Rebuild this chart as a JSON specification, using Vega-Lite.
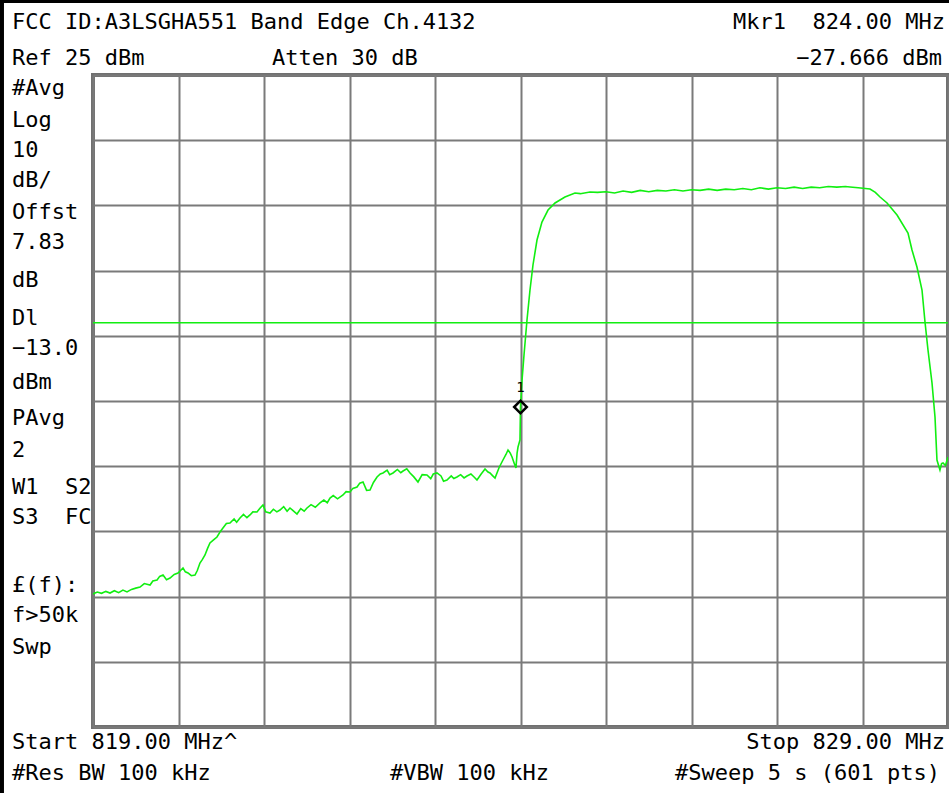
{
  "$schema": "https://vega.github.io/schema/vega-lite/v6.json",
  "width": 855,
  "height": 652,
  "autosize": {"type": "none"},
  "padding": {"left": 93, "top": 75, "right": 1, "bottom": 66},
  "background": "white",
  "config": {
    "view": {"stroke": "#707070", "strokeWidth": 4},
    "axis": {"grid": true, "gridColor": "#7a7a7a", "gridWidth": 2, "gridOpacity": 1, "labels": false, "ticks": false, "domain": false, "title": null}
  },
  "datasets": {
    "trace": [
      {"f": 819.000, "dBm": -54.6}, {"f": 819.05, "dBm": -54.3}, {"f": 819.10, "dBm": -54.5}, {"f": 819.15, "dBm": -54.2},
      {"f": 819.199, "dBm": -54.45}, {"f": 819.25, "dBm": -54.1}, {"f": 819.30, "dBm": -54.4}, {"f": 819.35, "dBm": -54.0},
      {"f": 819.398, "dBm": -54.29}, {"f": 819.45, "dBm": -53.9}, {"f": 819.50, "dBm": -53.7}, {"f": 819.550, "dBm": -53.53},
      {"f": 819.60, "dBm": -53.0}, {"f": 819.667, "dBm": -53.22}, {"f": 819.70, "dBm": -52.6}, {"f": 819.749, "dBm": -52.45},
      {"f": 819.78, "dBm": -51.9}, {"f": 819.819, "dBm": -51.69}, {"f": 819.86, "dBm": -52.4}, {"f": 819.901, "dBm": -52.15},
      {"f": 819.95, "dBm": -51.6}, {"f": 819.994, "dBm": -51.38}, {"f": 820.053, "dBm": -50.61}, {"f": 820.08, "dBm": -51.2},
      {"f": 820.111, "dBm": -51.38}, {"f": 820.15, "dBm": -51.8}, {"f": 820.193, "dBm": -51.69}, {"f": 820.22, "dBm": -51.0},
      {"f": 820.251, "dBm": -49.85}, {"f": 820.28, "dBm": -49.3}, {"f": 820.310, "dBm": -48.62}, {"f": 820.34, "dBm": -47.6},
      {"f": 820.368, "dBm": -46.78}, {"f": 820.41, "dBm": -46.3}, {"f": 820.450, "dBm": -45.86}, {"f": 820.49, "dBm": -45.0},
      {"f": 820.520, "dBm": -44.48}, {"f": 820.56, "dBm": -43.8}, {"f": 820.602, "dBm": -43.71}, {"f": 820.65, "dBm": -43.1},
      {"f": 820.68, "dBm": -43.6}, {"f": 820.719, "dBm": -42.94}, {"f": 820.76, "dBm": -42.4}, {"f": 820.80, "dBm": -42.9},
      {"f": 820.836, "dBm": -42.48}, {"f": 820.87, "dBm": -42.0}, {"f": 820.918, "dBm": -42.02}, {"f": 820.95, "dBm": -41.5},
      {"f": 820.988, "dBm": -40.95}, {"f": 821.02, "dBm": -42.0}, {"f": 821.070, "dBm": -42.18}, {"f": 821.11, "dBm": -41.6},
      {"f": 821.15, "dBm": -42.0}, {"f": 821.187, "dBm": -41.72}, {"f": 821.23, "dBm": -41.2}, {"f": 821.27, "dBm": -41.9},
      {"f": 821.304, "dBm": -41.41}, {"f": 821.34, "dBm": -41.8}, {"f": 821.386, "dBm": -42.33}, {"f": 821.43, "dBm": -41.5},
      {"f": 821.47, "dBm": -41.9}, {"f": 821.503, "dBm": -41.41}, {"f": 821.55, "dBm": -40.9}, {"f": 821.60, "dBm": -41.3},
      {"f": 821.655, "dBm": -40.64}, {"f": 821.70, "dBm": -40.2}, {"f": 821.74, "dBm": -40.6}, {"f": 821.772, "dBm": -39.88},
      {"f": 821.81, "dBm": -39.5}, {"f": 821.86, "dBm": -40.0}, {"f": 821.924, "dBm": -39.42}, {"f": 821.96, "dBm": -38.9},
      {"f": 822.006, "dBm": -38.96}, {"f": 822.04, "dBm": -38.4}, {"f": 822.088, "dBm": -38.19}, {"f": 822.12, "dBm": -37.6},
      {"f": 822.158, "dBm": -37.42}, {"f": 822.20, "dBm": -38.7}, {"f": 822.240, "dBm": -38.65}, {"f": 822.28, "dBm": -37.5},
      {"f": 822.322, "dBm": -36.66}, {"f": 822.36, "dBm": -36.2}, {"f": 822.392, "dBm": -36.04}, {"f": 822.44, "dBm": -35.6},
      {"f": 822.47, "dBm": -36.3}, {"f": 822.509, "dBm": -36.04}, {"f": 822.56, "dBm": -35.5}, {"f": 822.60, "dBm": -36.0},
      {"f": 822.626, "dBm": -35.74}, {"f": 822.67, "dBm": -35.4}, {"f": 822.708, "dBm": -36.04}, {"f": 822.75, "dBm": -36.6},
      {"f": 822.801, "dBm": -37.42}, {"f": 822.85, "dBm": -36.3}, {"f": 822.906, "dBm": -36.35}, {"f": 822.95, "dBm": -36.9},
      {"f": 822.98, "dBm": -36.2}, {"f": 823.023, "dBm": -36.04}, {"f": 823.07, "dBm": -36.5}, {"f": 823.10, "dBm": -37.3},
      {"f": 823.140, "dBm": -37.12}, {"f": 823.19, "dBm": -36.5}, {"f": 823.22, "dBm": -36.9}, {"f": 823.257, "dBm": -36.66},
      {"f": 823.30, "dBm": -36.3}, {"f": 823.34, "dBm": -36.8}, {"f": 823.374, "dBm": -36.50}, {"f": 823.42, "dBm": -36.2},
      {"f": 823.46, "dBm": -36.7}, {"f": 823.491, "dBm": -37.12}, {"f": 823.54, "dBm": -36.2}, {"f": 823.585, "dBm": -35.43},
      {"f": 823.62, "dBm": -35.9}, {"f": 823.643, "dBm": -36.04}, {"f": 823.67, "dBm": -36.4}, {"f": 823.702, "dBm": -36.81},
      {"f": 823.75, "dBm": -35.2}, {"f": 823.795, "dBm": -34.05}, {"f": 823.83, "dBm": -33.2}, {"f": 823.854, "dBm": -32.52},
      {"f": 823.88, "dBm": -33.0}, {"f": 823.901, "dBm": -33.59}, {"f": 823.925, "dBm": -34.5}, {"f": 823.947, "dBm": -35.28},
      {"f": 823.960, "dBm": -33.0}, {"f": 823.971, "dBm": -32.06}, {"f": 823.994, "dBm": -30.98}, {"f": 824.000, "dBm": -25.92},
      {"f": 824.018, "dBm": -21.78}, {"f": 824.041, "dBm": -17.94}, {"f": 824.076, "dBm": -12.58}, {"f": 824.111, "dBm": -7.98},
      {"f": 824.146, "dBm": -4.14}, {"f": 824.193, "dBm": -0.31}, {"f": 824.251, "dBm": 2.45}, {"f": 824.322, "dBm": 4.29},
      {"f": 824.404, "dBm": 5.37}, {"f": 824.520, "dBm": 6.29}, {"f": 824.637, "dBm": 6.90}, {"f": 824.70, "dBm": 6.8},
      {"f": 824.813, "dBm": 7.06}, {"f": 824.90, "dBm": 7.0}, {"f": 825.00, "dBm": 7.1}, {"f": 825.10, "dBm": 6.9},
      {"f": 825.20, "dBm": 7.2}, {"f": 825.30, "dBm": 7.0}, {"f": 825.40, "dBm": 7.3}, {"f": 825.50, "dBm": 7.1},
      {"f": 825.60, "dBm": 7.3}, {"f": 825.70, "dBm": 7.2}, {"f": 825.80, "dBm": 7.4}, {"f": 825.90, "dBm": 7.2},
      {"f": 826.00, "dBm": 7.4}, {"f": 826.10, "dBm": 7.3}, {"f": 826.20, "dBm": 7.5}, {"f": 826.30, "dBm": 7.3},
      {"f": 826.40, "dBm": 7.5}, {"f": 826.50, "dBm": 7.4}, {"f": 826.60, "dBm": 7.6}, {"f": 826.70, "dBm": 7.4},
      {"f": 826.80, "dBm": 7.7}, {"f": 826.90, "dBm": 7.5}, {"f": 827.00, "dBm": 7.7}, {"f": 827.10, "dBm": 7.6},
      {"f": 827.20, "dBm": 7.8}, {"f": 827.30, "dBm": 7.6}, {"f": 827.40, "dBm": 7.8}, {"f": 827.50, "dBm": 7.7},
      {"f": 827.60, "dBm": 7.9}, {"f": 827.70, "dBm": 7.8}, {"f": 827.80, "dBm": 7.9}, {"f": 827.854, "dBm": 7.82},
      {"f": 827.95, "dBm": 7.7}, {"f": 828.088, "dBm": 7.52}, {"f": 828.15, "dBm": 7.0}, {"f": 828.205, "dBm": 6.29},
      {"f": 828.287, "dBm": 5.37}, {"f": 828.404, "dBm": 3.53}, {"f": 828.532, "dBm": 0.77}, {"f": 828.579, "dBm": -1.84},
      {"f": 828.637, "dBm": -4.45}, {"f": 828.696, "dBm": -7.98}, {"f": 828.731, "dBm": -12.88}, {"f": 828.766, "dBm": -17.18},
      {"f": 828.813, "dBm": -22.24}, {"f": 828.848, "dBm": -27.45}, {"f": 828.871, "dBm": -34.05}, {"f": 828.906, "dBm": -35.58},
      {"f": 828.925, "dBm": -34.6}, {"f": 828.942, "dBm": -34.51}, {"f": 828.97, "dBm": -34.9}, {"f": 829.000, "dBm": -33.59}
    ],
    "leftNotes": [
      {"label": "FCC ID:A3LSGHA551 Band Edge Ch.4132", "f": 818.053, "dBm": 33.13},
      {"label": "Ref 25 dBm", "f": 818.053, "dBm": 27.61},
      {"label": "Atten 30 dB", "f": 821.094, "dBm": 27.61},
      {"label": "#Avg", "f": 818.053, "dBm": 23.01},
      {"label": "Log", "f": 818.053, "dBm": 18.10},
      {"label": "10", "f": 818.053, "dBm": 13.50},
      {"label": "dB/", "f": 818.053, "dBm": 8.90},
      {"label": "Offst", "f": 818.053, "dBm": 3.99},
      {"label": "7.83", "f": 818.053, "dBm": -0.61},
      {"label": "dB", "f": 818.053, "dBm": -6.44},
      {"label": "Dl", "f": 818.053, "dBm": -12.27},
      {"label": "−13.0", "f": 818.053, "dBm": -16.87},
      {"label": "dBm", "f": 818.053, "dBm": -22.09},
      {"label": "PAvg", "f": 818.053, "dBm": -27.61},
      {"label": "2", "f": 818.053, "dBm": -32.52},
      {"label": "W1\u00a0\u00a0S2", "f": 818.053, "dBm": -38.19},
      {"label": "S3\u00a0\u00a0FC", "f": 818.053, "dBm": -42.79},
      {"label": "£(f):", "f": 818.053, "dBm": -53.22},
      {"label": "f>50k", "f": 818.053, "dBm": -57.82},
      {"label": "Swp", "f": 818.053, "dBm": -62.73},
      {"label": "Start 819.00 MHz^", "f": 818.053, "dBm": -77.30},
      {"label": "#Res BW 100 kHz", "f": 818.053, "dBm": -82.06},
      {"label": "#VBW 100 kHz", "f": 822.474, "dBm": -82.06}
    ],
    "rightNotes": [
      {"label": "Mkr1\u00a0\u00a0824.00 MHz", "f": 828.965, "dBm": 33.13},
      {"label": "−27.666 dBm", "f": 828.93, "dBm": 27.61},
      {"label": "Stop 829.00 MHz", "f": 828.965, "dBm": -77.30},
      {"label": "#Sweep 5 s (601 pts)", "f": 828.906, "dBm": -82.06}
    ],
    "marker": [
      {"f": 824.0, "dBm": -25.92, "name": "1", "labelDBm": -23.0}
    ],
    "displayLine": [
      {"dBm": -13.0}
    ]
  },
  "layer": [
    {
      "data": {"name": "trace"},
      "mark": {"type": "line", "color": "#11ee11", "strokeWidth": 1.6, "clip": true},
      "encoding": {
        "x": {"field": "f", "type": "quantitative", "scale": {"domain": [819, 829], "nice": false, "zero": false}, "axis": {"values": [819, 820, 821, 822, 823, 824, 825, 826, 827, 828, 829]}},
        "y": {"field": "dBm", "type": "quantitative", "scale": {"domain": [-75, 25], "nice": false, "zero": false}, "axis": {"values": [-75, -65, -55, -45, -35, -25, -15, -5, 5, 15, 25]}}
      }
    },
    {
      "data": {"name": "displayLine"},
      "mark": {"type": "rule", "color": "#11ee11", "strokeWidth": 1.6},
      "encoding": {
        "y": {"field": "dBm", "type": "quantitative", "scale": {"domain": [-75, 25], "nice": false, "zero": false}}
      }
    },
    {
      "data": {"name": "marker"},
      "mark": {"type": "point", "shape": "diamond", "filled": false, "stroke": "black", "strokeWidth": 2.5, "size": 160, "opacity": 1},
      "encoding": {
        "x": {"field": "f", "type": "quantitative", "scale": {"domain": [819, 829], "nice": false, "zero": false}},
        "y": {"field": "dBm", "type": "quantitative", "scale": {"domain": [-75, 25], "nice": false, "zero": false}}
      }
    },
    {
      "data": {"name": "marker"},
      "mark": {"type": "text", "font": "DejaVu Sans Mono", "fontSize": 14, "color": "black", "baseline": "middle", "align": "center"},
      "encoding": {
        "x": {"field": "f", "type": "quantitative", "scale": {"domain": [819, 829], "nice": false, "zero": false}},
        "y": {"field": "labelDBm", "type": "quantitative", "scale": {"domain": [-75, 25], "nice": false, "zero": false}},
        "text": {"field": "name"}
      }
    },
    {
      "data": {"name": "leftNotes"},
      "mark": {"type": "text", "font": "DejaVu Sans Mono", "fontSize": 22, "color": "black", "baseline": "middle", "align": "left"},
      "encoding": {
        "x": {"field": "f", "type": "quantitative", "scale": {"domain": [819, 829], "nice": false, "zero": false}},
        "y": {"field": "dBm", "type": "quantitative", "scale": {"domain": [-75, 25], "nice": false, "zero": false}},
        "text": {"field": "label"}
      }
    },
    {
      "data": {"name": "rightNotes"},
      "mark": {"type": "text", "font": "DejaVu Sans Mono", "fontSize": 22, "color": "black", "baseline": "middle", "align": "right"},
      "encoding": {
        "x": {"field": "f", "type": "quantitative", "scale": {"domain": [819, 829], "nice": false, "zero": false}},
        "y": {"field": "dBm", "type": "quantitative", "scale": {"domain": [-75, 25], "nice": false, "zero": false}},
        "text": {"field": "label"}
      }
    },
    {
      "data": {"values": [{}]},
      "mark": {"type": "rule", "color": "black", "strokeWidth": 8},
      "encoding": {
        "x": {"datum": 817.912, "type": "quantitative", "scale": {"domain": [819, 829], "nice": false, "zero": false}},
        "y": {"datum": 36.5, "type": "quantitative", "scale": {"domain": [-75, 25], "nice": false, "zero": false}},
        "y2": {"datum": -85.2}
      }
    },
    {
      "data": {"values": [{}]},
      "mark": {"type": "rule", "color": "black", "strokeWidth": 6},
      "encoding": {
        "y": {"datum": 36.5, "type": "quantitative", "scale": {"domain": [-75, 25], "nice": false, "zero": false}},
        "x": {"datum": 817.912, "type": "quantitative", "scale": {"domain": [819, 829], "nice": false, "zero": false}},
        "x2": {"datum": 829.1}
      }
    }
  ]
}
